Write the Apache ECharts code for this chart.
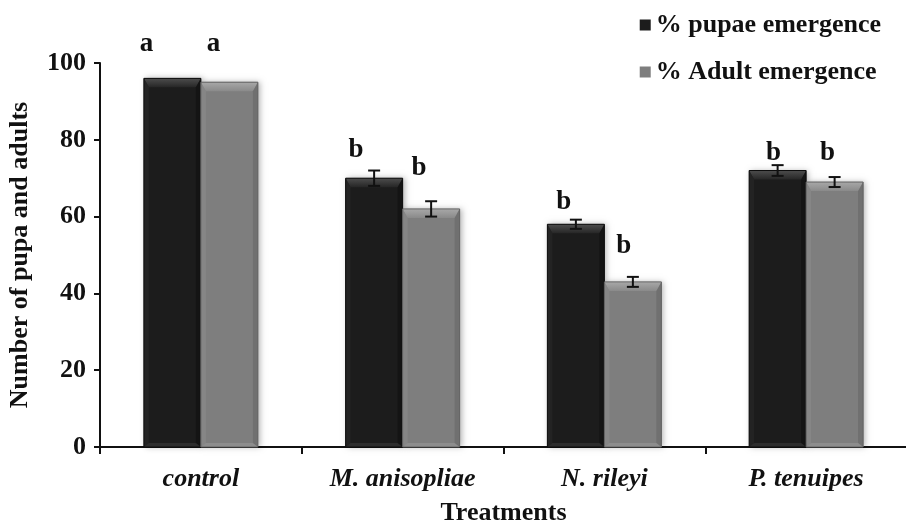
<!DOCTYPE html>
<html><head><meta charset="utf-8">
<script src="https://cdn.jsdelivr.net/npm/echarts@6/dist/echarts.min.js"></script>
<style>html,body{margin:0;padding:0;background:#fff}#c{width:906px;height:524px}</style>
</head><body><div id="c"></div>
<script>
// ---- data ----
var categories = ['control', 'M. anisopliae', 'N. rileyi', 'P. tenuipes'];
var seriesNames = ['% pupae emergence', '% Adult emergence'];
var pupae = [96, 70, 58, 72];
var adult = [95, 62, 43, 69];
var pupaeErr = [0, 2, 1.2, 1.4];
var adultErr = [0, 2, 1.3, 1.3];
var pupaeLetters = ['a', 'b', 'b', 'b'];
var adultLetters = ['a', 'b', 'b', 'b'];
var yTicks = [0, 20, 40, 60, 80, 100];

// ---- annotation layout (letter anchors: value-axis height, pixel nudge from bar centre) ----
var pupaeLetterY = [105, 77.3, 63.8, 76.6];
var adultLetterY = [105, 72.7, 52.3, 76.6];
var pupaeLetterDx = [-26, -18, -12, -4];
var adultLetterDx = [-16, -12, -9, -7];

var FONT = '"Liberation Serif", "Times New Roman", serif';
var BAR_W = 57;
var palettes = [
  {main: '#1c1c1c', top: '#4d4d4d', side: '#262626', edge: '#0c0c0c'},
  {main: '#7e7e7e', top: '#a8a8a8', side: '#8a8a8a', edge: '#626262'}
];

function barRender(sIdx) {
  return function (params, api) {
    var cat = api.value(0), v = api.value(1);
    var top = api.coord([cat, v]);
    var base = api.coord([cat, 0]);
    var cx = top[0] + (sIdx === 0 ? -BAR_W / 2 : BAR_W / 2);
    var x0 = cx - BAR_W / 2, x1 = cx + BAR_W / 2;
    var y0 = top[1], y1 = base[1];
    var p = palettes[sIdx];
    var b = 9, s = 5;
    return {
      type: 'group',
      children: [
        {type: 'rect', shape: {x: x0, y: y0, width: BAR_W, height: y1 - y0},
          style: {fill: p.main, shadowBlur: 6, shadowColor: 'rgba(0,0,0,0.3)', shadowOffsetX: 2, shadowOffsetY: 0}},
        {type: 'polygon', shape: {points: [[x0, y0], [x1, y0], [x1 - s, y0 + b], [x0 + s, y0 + b]]},
          style: {fill: new echarts.graphic.LinearGradient(0, 0, 0, 1, [{offset: 0, color: p.top}, {offset: 1, color: p.side}])}},
        {type: 'polygon', shape: {points: [[x0, y0], [x0 + s, y0 + b], [x0 + s, y1 - 4], [x0, y1]]},
          style: {fill: p.side, opacity: 0.7}},
        {type: 'polygon', shape: {points: [[x1, y0], [x1 - s, y0 + b], [x1 - s, y1 - 4], [x1, y1]]},
          style: {fill: p.edge, opacity: 0.5}},
        {type: 'polygon', shape: {points: [[x0, y1], [x0 + s, y1 - 4], [x1 - s, y1 - 4], [x1, y1]]},
          style: {fill: p.top, opacity: 0.35}},
        {type: 'rect', shape: {x: x0, y: y0, width: BAR_W, height: y1 - y0},
          style: {fill: 'none', stroke: p.edge, lineWidth: 1}}
      ]
    };
  };
}

function errRender(params, api) {
  var cat = api.value(0), sIdx = api.value(1), m = api.value(2), e = api.value(3);
  if (!e) return null;
  var hi = api.coord([cat, m + e]), lo = api.coord([cat, m - e]);
  var cx = hi[0] + (sIdx === 0 ? -BAR_W / 2 : BAR_W / 2);
  var cap = 6;
  var st = {stroke: '#111', lineWidth: 2};
  return {type: 'group', children: [
    {type: 'line', shape: {x1: cx, y1: hi[1], x2: cx, y2: lo[1]}, style: st},
    {type: 'line', shape: {x1: cx - cap, y1: hi[1], x2: cx + cap, y2: hi[1]}, style: st},
    {type: 'line', shape: {x1: cx - cap, y1: lo[1], x2: cx + cap, y2: lo[1]}, style: st}
  ]};
}

function letterRender(params, api) {
  var cat = api.value(0), sIdx = api.value(1), y = api.value(2);
  var letters = sIdx === 0 ? pupaeLetters : adultLetters;
  var dx = sIdx === 0 ? pupaeLetterDx[cat] : adultLetterDx[cat];
  var pt = api.coord([cat, y]);
  var cx = pt[0] + (sIdx === 0 ? -BAR_W / 2 : BAR_W / 2) + dx;
  return {type: 'text', x: cx, y: pt[1],
    style: {text: letters[cat], font: 'bold 27px ' + FONT, fill: '#111', align: 'center', verticalAlign: 'middle'}};
}

var errData = [], letterData = [];
categories.forEach(function (c, i) {
  errData.push([i, 0, pupae[i], pupaeErr[i]]);
  errData.push([i, 1, adult[i], adultErr[i]]);
  letterData.push([i, 0, pupaeLetterY[i]]);
  letterData.push([i, 1, adultLetterY[i]]);
});

var chart = echarts.init(document.getElementById('c'));
chart.setOption({
  animation: false,
  backgroundColor: '#fff',
  grid: {left: 100, right: -1, top: 63, bottom: 77, outerBoundsMode: 'none', containLabel: false},
  legend: {
    orient: 'vertical', right: 20, top: 7, itemGap: 21,
    itemWidth: 11, itemHeight: 11, icon: 'rect',
    textStyle: {fontFamily: FONT, fontWeight: 'bold', fontSize: 26, color: '#111'},
    data: seriesNames
  },
  xAxis: {
    type: 'category', data: categories,
    axisLine: {lineStyle: {color: '#111', width: 2}},
    axisTick: {show: true, length: 7, lineStyle: {color: '#111', width: 2}},
    axisLabel: {fontFamily: FONT, fontWeight: 'bold', fontStyle: 'italic', fontSize: 26, color: '#111', margin: 19},
    name: 'Treatments', nameLocation: 'middle', nameGap: 53,
    nameTextStyle: {fontFamily: FONT, fontWeight: 'bold', fontSize: 26, color: '#111'}
  },
  yAxis: {
    type: 'value', min: 0, max: 100, interval: 20,
    splitLine: {show: false},
    axisLine: {show: true, lineStyle: {color: '#111', width: 2}},
    axisTick: {show: true, length: 6, lineStyle: {color: '#111', width: 2}},
    axisLabel: {fontFamily: FONT, fontWeight: 'bold', fontSize: 26, color: '#111', margin: 14,
      formatter: function (v) { return yTicks.indexOf(v) >= 0 ? String(v) : ''; }},
    name: 'Number of pupa and adults', nameLocation: 'middle', nameGap: 67,
    nameTextStyle: {fontFamily: FONT, fontWeight: 'bold', fontSize: 26, color: '#111'}
  },
  series: [
    {name: seriesNames[0], type: 'custom', renderItem: barRender(0), itemStyle: {color: '#1c1c1c'},
      encode: {x: 0, y: 1}, data: pupae.map(function (v, i) { return [i, v]; }), z: 2},
    {name: seriesNames[1], type: 'custom', renderItem: barRender(1), itemStyle: {color: '#7e7e7e'},
      encode: {x: 0, y: 1}, data: adult.map(function (v, i) { return [i, v]; }), z: 2},
    {type: 'custom', renderItem: errRender, encode: {x: 0, y: 2}, data: errData, z: 3, silent: true},
    {type: 'custom', renderItem: letterRender, encode: {x: 0, y: 2}, data: letterData, z: 4, clip: false, silent: true}
  ]
});
</script></body></html>
